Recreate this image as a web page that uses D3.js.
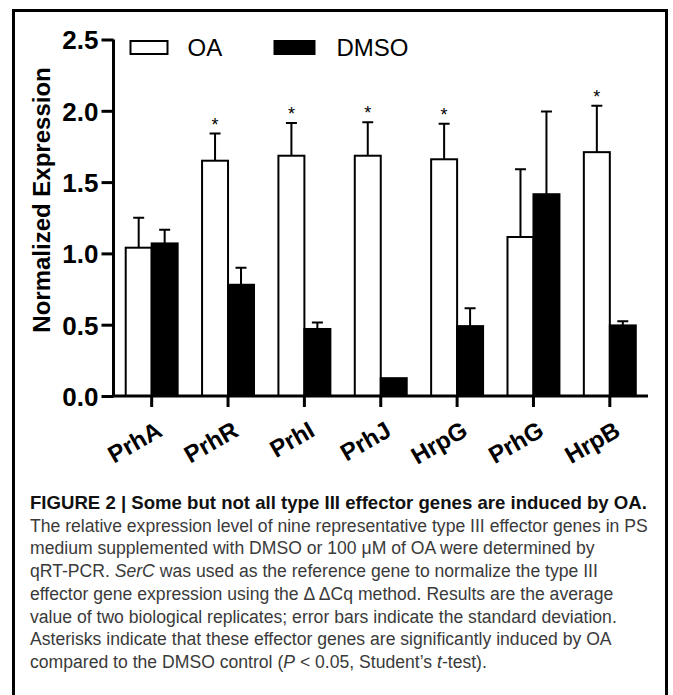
<!DOCTYPE html>
<html>
<head>
<meta charset="utf-8">
<script src="https://cdn.jsdelivr.net/npm/d3@7/dist/d3.min.js"></script>
<style>
  body { margin: 0; background: #fff; }
  svg { display: block; font-family: "Liberation Sans", Arial, sans-serif; }
</style>
</head>
<body>
<div id="chart"></div>
<script>
// data
var genes = ["PrhA", "PrhR", "PrhI", "PrhJ", "HrpG", "PrhG", "HrpB"];
var oaMean = [1.04, 1.65, 1.685, 1.685, 1.66, 1.115, 1.71];
var oaSd = [0.21, 0.19, 0.23, 0.235, 0.25, 0.475, 0.325];
var dmsoMean = [1.07, 0.78, 0.47, 0.125, 0.49, 1.415, 0.495];
var dmsoSd = [0.095, 0.12, 0.045, 0, 0.125, 0.58, 0.03];
var significant = [false, true, true, true, true, false, true];
var groups = ["OA", "DMSO"];
var yTicks = [0, 0.5, 1.0, 1.5, 2.0, 2.5];

var captionTitle = "FIGURE 2 | Some but not all type III effector genes are induced by OA.";
// each line: list of [text, italic]
var captionLines = [
  [["The relative expression level of nine representative type III effector genes in PS", false]],
  [["medium supplemented with DMSO or 100 \u03bcM of OA were determined by", false]],
  [["qRT-PCR. ", false], ["SerC", true], [" was used as the reference gene to normalize the type III", false]],
  [["effector gene expression using the \u0394\u2009\u0394Cq method. Results are the average", false]],
  [["value of two biological replicates; error bars indicate the standard deviation.", false]],
  [["Asterisks indicate that these effector genes are significantly induced by OA", false]],
  [["compared to the DMSO control (", false], ["P", true], [" < 0.05, Student\u2019s ", false], ["t", true], ["-test).", false]]
];

//styles
var width = 673, height = 695;
var axisLeft = 113.5, axisRight = 648, axisTop = 39.5, axisBottom = 396;
var fills = {"OA": "#fff", "DMSO": "#000"};

var rows = genes.map(function (g, i) {
  return {gene: g, sig: significant[i], bars: [
    {group: "OA", mean: oaMean[i], sd: oaSd[i]},
    {group: "DMSO", mean: dmsoMean[i], sd: dmsoSd[i]}
  ]};
});

var svg = d3.select("#chart").append("svg")
  .attr("width", width)
  .attr("height", height);

// frame round the figure (runs off the bottom)
svg.append("rect")
  .attr("x", 13.5).attr("y", 10.5)
  .attr("width", 653).attr("height", 720)
  .attr("fill", "none")
  .attr("stroke", "#000")
  .attr("stroke-width", 3);

var x = d3.scaleBand().domain(genes).range([axisLeft, axisRight]);
var x1 = d3.scaleBand().domain(groups).range([0, x.bandwidth()]).paddingOuter(0.47);
var y = d3.scaleLinear().domain([0, 2.5]).range([axisBottom, axisTop]);

// bars
var g = svg.selectAll(".gene").data(rows).enter().append("g")
  .attr("class", "gene")
  .attr("transform", function (d) { return "translate(" + x(d.gene) + ",0)"; });

// error bars first so the bar outline sits on top
g.selectAll(".err").data(function (d) { return d.bars.filter(function (b) { return b.sd > 0; }); })
  .enter().append("path")
  .attr("class", "err")
  .attr("fill", "none")
  .attr("stroke", "#000")
  .attr("stroke-width", 2)
  .attr("d", function (b) {
    var cx = x1(b.group) + x1.bandwidth() / 2;
    var top = y(b.mean + b.sd);
    return "M" + cx + "," + y(b.mean) + "V" + top + "M" + (cx - 5.5) + "," + top + "H" + (cx + 5.5);
  });

g.selectAll(".bar").data(function (d) { return d.bars; })
  .enter().append("rect")
  .attr("class", "bar")
  .attr("x", function (b) { return x1(b.group); })
  .attr("width", x1.bandwidth())
  .attr("y", function (b) { return y(b.mean); })
  .attr("height", function (b) { return y(0) - y(b.mean); })
  .attr("fill", function (b) { return fills[b.group]; })
  .attr("stroke", "#000")
  .attr("stroke-width", 2);

// asterisks over the OA bars
g.filter(function (d) { return d.sig; }).append("text")
  .attr("x", x1("OA") + x1.bandwidth() / 2)
  .attr("y", function (d) { return y(d.bars[0].mean + d.bars[0].sd) - 3; })
  .attr("text-anchor", "middle")
  .style("font-size", "18px")
  .text("*");

// y axis
var yAxis = svg.append("g")
  .attr("transform", "translate(" + axisLeft + ",0)")
  .call(d3.axisLeft(y).tickValues(yTicks).tickFormat(d3.format(".1f")).tickSize(12).tickPadding(3));
yAxis.select(".domain").attr("d", "M0," + axisTop + "V" + axisBottom).attr("stroke-width", 3);
yAxis.selectAll(".tick line").attr("stroke-width", 3);
yAxis.selectAll(".tick text")
  .attr("dy", "0.36em")
  .style("font-size", "26px")
  .style("font-weight", "bold")
  .attr("fill", "#000");

// x axis
var xAxis = svg.append("g")
  .attr("transform", "translate(0," + axisBottom + ")")
  .call(d3.axisBottom(x).tickSize(11).tickSizeOuter(0));
xAxis.select(".domain").attr("d", "M" + (axisLeft - 1.5) + ",0H" + axisRight).attr("stroke-width", 3);
xAxis.selectAll(".tick line").attr("stroke-width", 3);
xAxis.selectAll(".tick text")
  .attr("text-anchor", "end")
  .attr("dy", null)
  .attr("y", 0)
  .attr("transform", "translate(12,39) rotate(-30)")
  .style("font-size", "24px")
  .style("font-weight", "bold")
  .attr("fill", "#000");

// y axis title
svg.append("text")
  .attr("transform", "translate(50,200) rotate(-90)")
  .attr("text-anchor", "middle")
  .style("font-size", "24px")
  .style("font-weight", "bold")
  .text("Normalized Expression");

// legend
var legendX = [130.5, 274.5];
var legend = svg.selectAll(".legend").data(groups).enter().append("g")
  .attr("class", "legend")
  .attr("transform", function (d, i) { return "translate(" + legendX[i] + ",41)"; });
legend.append("rect")
  .attr("width", function (d, i) { return i === 0 ? 37 : 40; })
  .attr("height", 13)
  .attr("fill", function (d) { return fills[d]; })
  .attr("stroke", "#000")
  .attr("stroke-width", 2);
legend.append("text")
  .attr("x", function (d, i) { return i === 0 ? 57 : 62; })
  .attr("y", 15)
  .style("font-size", "24px")
  .text(function (d) { return d; });

// caption
var captionX = 30, captionY = 509, lineGap = 22.7;
svg.append("text")
  .attr("x", captionX).attr("y", captionY)
  .style("font-size", "18.6px")
  .style("font-weight", "bold")
  .attr("fill", "#111")
  .text(captionTitle);

captionLines.forEach(function (line, i) {
  var t = svg.append("text")
    .attr("x", captionX)
    .attr("y", captionY + (i + 1) * lineGap)
    .style("font-size", "17.6px")
    .attr("fill", "#3a3a3a");
  t.selectAll("tspan").data(line).enter().append("tspan")
    .style("font-style", function (s) { return s[1] ? "italic" : "normal"; })
    .text(function (s) { return s[0]; });
});
</script>
</body>
</html>
